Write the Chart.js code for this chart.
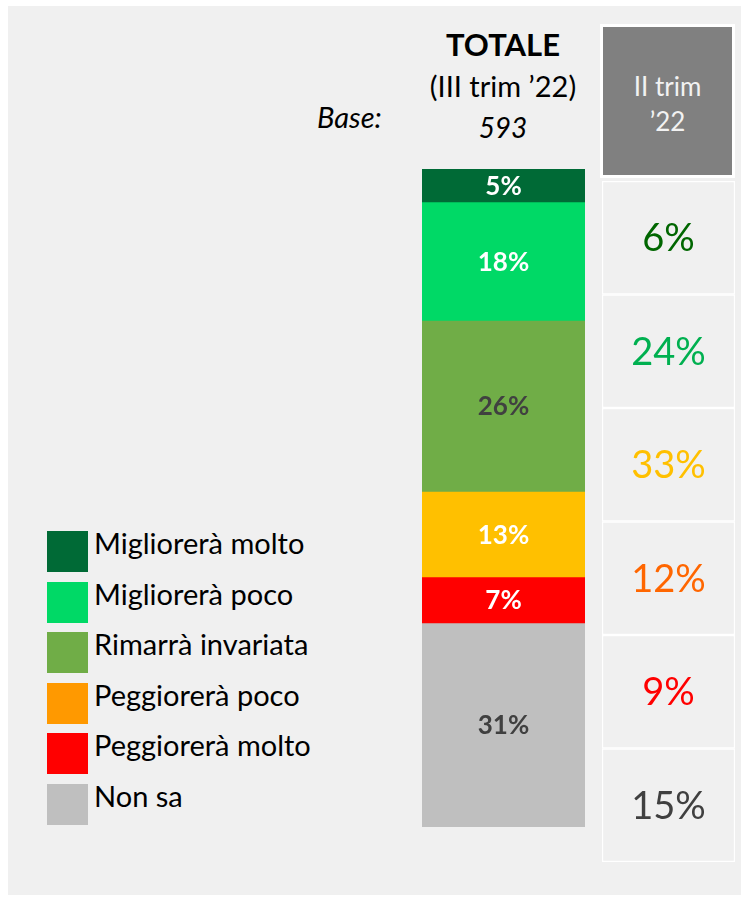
<!DOCTYPE html>
<html>
<head>
<meta charset="utf-8">
<script src="https://cdn.jsdelivr.net/npm/chart.js@4.4.0/dist/chart.umd.min.js"></script>
<style>
  html, body { margin: 0; padding: 0; background: #ffffff; width: 743px; height: 898px; overflow: hidden; font-family: Lato, "Open Sans", sans-serif; }
  #panel { position: absolute; left: 8px; top: 6px; width: 733px; height: 889px; background: #f0f0f0; }
  canvas { position: absolute; left: 0; top: 0; }
  .t { position: absolute; white-space: nowrap; color: #000; line-height: 1; }
  #hdrwrap { position: absolute; left: 600px; top: 24px; width: 135px; height: 154px; background: #ffffff; }
  #hdr { position: absolute; left: 603px; top: 27px; width: 129px; height: 148px; background: #808080; color: #f2f2f2; font-size: 26px; text-align: center; line-height: 1; }
  .leg { position: absolute; left: 47px; width: 41px; height: 41px; }
  .legt { position: absolute; left: 94px; font-size: 29px; color: #000; white-space: nowrap; line-height: 1; }
</style>
</head>
<body>
<div id="panel"></div>
<div class="t" style="left:403px;width:200px;text-align:center;top:29px;font-size:31px;font-weight:bold;">TOTALE</div>
<div class="t" style="left:403px;width:200px;text-align:center;top:71px;font-size:29px;">(III trim ’22)</div>
<div class="t" style="left:403px;width:200px;text-align:center;top:113px;font-size:28px;font-style:italic;" id="baseN"></div>
<div class="t" style="left:317px;top:102px;font-size:29px;font-style:italic;">Base:</div>
<div id="hdrwrap"></div>
<div id="hdr"><div style="position:absolute;left:0;width:129px;top:46px;">II trim</div><div style="position:absolute;left:0;width:129px;top:81px;">’22</div></div>
<div id="legend"></div>
<canvas id="bar" width="743" height="898"></canvas>
<canvas id="tbl" width="743" height="898"></canvas>
<script>
// ---------- DATA ----------
const categories = ["Migliorerà molto", "Migliorerà poco", "Rimarrà invariata", "Peggiorerà poco", "Peggiorerà molto", "Non sa"];
const currentValues = [5, 18, 26, 13, 7, 31];      // TOTALE (III trim '22)
const previousValues = [6, 24, 33, 12, 9, 15];     // II trim '22
const baseSize = 593;
const tickLabels = ["TOTALE"];

// ---------- STYLE ----------
const barColors = ["#006a36", "#00d966", "#70ad47", "#ffc000", "#ff0000", "#bfbfbf"];
const legendColors = ["#006a36", "#00d966", "#70ad47", "#ff9900", "#ff0000", "#bfbfbf"];
const barLabelColors = ["#ffffff", "#ffffff", "#404040", "#ffffff", "#ffffff", "#404040"];
const prevColors = ["#006600", "#00b050", "#ffc000", "#ff6600", "#ff0000", "#404040"];

document.getElementById('baseN').textContent = String(baseSize);

// legend (HTML)
const leg = document.getElementById('legend');
categories.forEach((c, i) => {
  const top = 531 + i * 50.6;
  const sq = document.createElement('div');
  sq.className = 'leg'; sq.style.top = top + 'px'; sq.style.background = legendColors[i];
  leg.appendChild(sq);
  const tx = document.createElement('div');
  tx.className = 'legt'; tx.style.top = (top - 3) + 'px'; tx.textContent = c;
  leg.appendChild(tx);
});

const labelPlugin = (texts, colors, font) => ({
  id: 'segLabels',
  afterDatasetsDraw(chart) {
    const ctx = chart.ctx;
    ctx.save();
    ctx.textAlign = 'center';
    ctx.textBaseline = 'middle';
    ctx.font = font;
    chart.data.datasets.forEach((ds, i) => {
      const el = chart.getDatasetMeta(i).data[0];
      if (!el) return;
      const p = el.getProps(['x', 'y', 'base'], true);
      ctx.fillStyle = colors[i];
      ctx.fillText(texts[i], p.x, (p.y + p.base) / 2 + 1);
    });
    ctx.restore();
  }
});

// main stacked bar
new Chart(document.getElementById('bar'), {
  type: 'bar',
  data: {
    labels: tickLabels,
    datasets: categories.map((c, i) => ({
      label: c,
      data: [currentValues[i]],
      backgroundColor: barColors[i],
      borderWidth: 0,
      barPercentage: 1,
      categoryPercentage: 1
    }))
  },
  options: {
    responsive: false,
    devicePixelRatio: 1,
    animation: false,
    layout: { padding: { left: 422, right: 158, top: 169, bottom: 71 } },
    scales: {
      x: { display: false, stacked: true },
      y: { display: false, stacked: true, min: 0, max: 100, reverse: true }
    },
    plugins: { legend: { display: false }, tooltip: { enabled: false } }
  },
  plugins: [labelPlugin(currentValues.map(v => v + '%'), barLabelColors, 'bold 26px Lato, "Open Sans", sans-serif')]
});

// previous-quarter column as equal cells
new Chart(document.getElementById('tbl'), {
  type: 'bar',
  data: {
    labels: ["II trim ’22"],
    datasets: categories.map((c, i) => ({
      label: c,
      data: [[i, i + 1]],
      backgroundColor: '#f0f0f0',
      borderColor: '#ffffff',
      borderWidth: 1.5,
      borderSkipped: false,
      barPercentage: 1,
      categoryPercentage: 1
    }))
  },
  options: {
    responsive: false,
    devicePixelRatio: 1,
    animation: false,
    layout: { padding: { left: 602, right: 8, top: 181, bottom: 36 } },
    scales: {
      x: { display: false, stacked: true },
      y: { display: false, stacked: false, min: 0, max: categories.length, reverse: true }
    },
    plugins: { legend: { display: false }, tooltip: { enabled: false } }
  },
  plugins: [labelPlugin(previousValues.map(v => v + '%'), prevColors, '38px Lato, "Open Sans", sans-serif')]
});
</script>
</body>
</html>
